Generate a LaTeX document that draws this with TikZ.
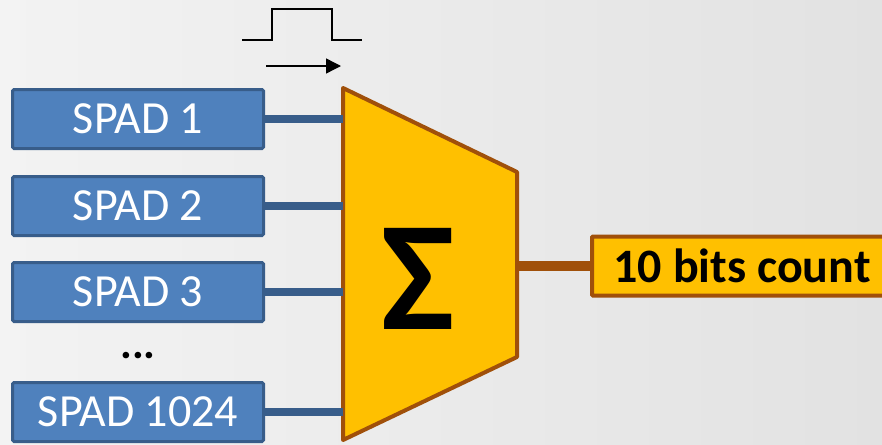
\documentclass[tikz,border=0pt]{standalone}
\usepackage{fontspec}
\setmainfont{Carlito}
\usetikzlibrary{arrows.meta}
\definecolor{bgL}{HTML}{F3F3F3}
\definecolor{bgR}{HTML}{E2E2E2}
\definecolor{spadfill}{HTML}{4F81BD}
\definecolor{spadline}{HTML}{385D8A}
\definecolor{sumfill}{HTML}{FFC000}
\definecolor{sumline}{HTML}{A0500A}
\begin{document}
\begin{tikzpicture}[x=1pt,y=-1pt,
  spadbox/.style={draw=spadline,fill=spadfill,line width=3pt,rounded corners=1.5pt,
    minimum width=251pt,minimum height=59pt,inner sep=0pt,text=white,
    font=\fontsize{46}{46}\selectfont},
  spadwire/.style={draw=spadline,line width=8pt},
  outwire/.style={draw=sumline,line width=10pt},
  countbox/.style={draw=sumline,fill=sumfill,line width=4pt,rounded corners=1pt,
    minimum width=300pt,minimum height=59pt,inner sep=0pt,anchor=west,
    font=\fontsize{48}{48}\selectfont\bfseries},
  signal/.style={line width=2pt,black}]
  % background
  \shade[left color=bgL,right color=bgR] (0,0) rectangle (882,444);
  \useasboundingbox (0,0) rectangle (882,444);

  % adder outline
  \coordinate (tl) at (343,88);
  \coordinate (tr) at (517,172);
  \coordinate (br) at (517,357);
  \coordinate (bl) at (343,440);
  \draw[fill=sumfill,draw=sumline,line width=4pt,line join=round]
    (tl) -- (tr) -- (br) -- (bl) -- cycle;
  \node[inner sep=0pt,font=\fontsize{156}{156}\selectfont\bfseries] (sigma) at (418,279) {Σ};

  % input channels
  \node[spadbox] (s1) at (138,119) {SPAD 1};
  \node[spadbox] (s2) at (138,206) {SPAD 2};
  \node[spadbox] (s3) at (138,292) {SPAD 3};
  \node[spadbox] (s4) at (138,412) {SPAD 1024};
  \node[font=\fontsize{44}{44}\selectfont\bfseries] (dots) at (138,356) {...};

  \coordinate (i1) at (343,119);
  \coordinate (i2) at (343,206);
  \coordinate (i3) at (343,292);
  \coordinate (i4) at (343,412);
  \draw[spadwire] (s1.east) -- (i1);
  \draw[spadwire] (s2.east) -- (i2);
  \draw[spadwire] (s3.east) -- (i3);
  \draw[spadwire] (s4.east) -- (i4);

  % output
  \node[countbox] (cnt) at (590,266) {10 bits count};
  \coordinate (o) at (517,266);
  \draw[outwire] (o) -- (cnt.west);

  % pulse and time direction
  \coordinate (p0) at (242,40);
  \coordinate (p1) at (272,40);
  \coordinate (p2) at (272,9);
  \coordinate (p3) at (332,9);
  \coordinate (p4) at (332,40);
  \coordinate (p5) at (362,40);
  \draw[signal] (p0) -- (p1) -- (p2) -- (p3) -- (p4) -- (p5);
  \coordinate (a0) at (266,66);
  \coordinate (a1) at (341,66);
  \draw[signal,line width=1.4pt,-{Triangle[length=15pt,width=15pt]}] (a0) -- (a1);
\end{tikzpicture}
\end{document}
